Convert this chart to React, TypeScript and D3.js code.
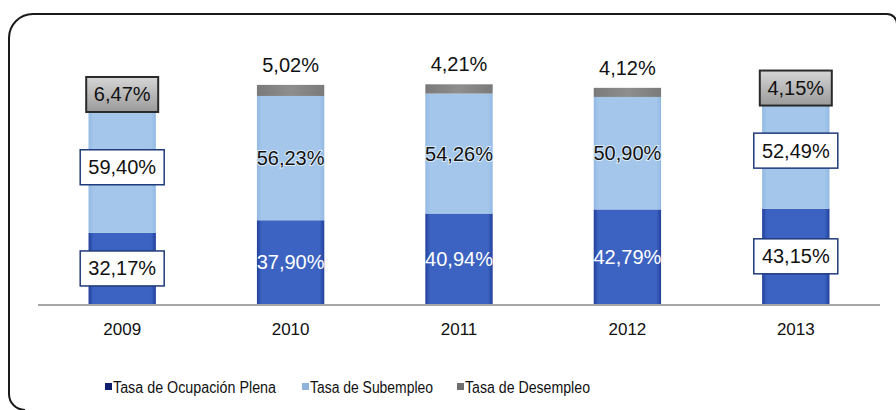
import React from "react";
import * as d3 from "d3";

const years = ["2009", "2010", "2011", "2012", "2013"];
const ocupacion = [32.17, 37.9, 40.94, 42.79, 43.15];
const subempleo = [59.4, 56.23, 54.26, 50.9, 52.49];
const desempleo = [6.47, 5.02, 4.21, 4.12, 4.15];
const boxed = [true, false, false, false, true];
const seriesNames = ["Tasa de Ocupación Plena", "Tasa de Subempleo", "Tasa de Desempleo"];

const W = 896;
const H = 410;
const FONT = "'Liberation Sans', Arial, sans-serif";

const fmt = (v: number) => v.toFixed(2).replace(".", ",") + "%";

export default function App() {
  const x = d3.scaleBand<string>().domain(years).range([38, 880]).paddingInner(0.6).paddingOuter(0.3);
  const y = d3.scaleLinear().domain([0, 100]).range([304, 83]);
  const bw = x.bandwidth();

  const rows = years.map((yr, i) => ({ yr, o: ocupacion[i], s: subempleo[i], d: desempleo[i] }));
  const stack = d3.stack<any>().keys(["o", "s", "d"])(rows as any);

  const fills = ["url(#gOcu)", "url(#gSub)", "url(#gDes)"];
  const legendColors = ["#0f1f6e", "#8fb3dc", "#6f6f6f"];
  const legendX = [105, 302, 457];
  const legendLen = [163, 123, 125];

  const frame = "M9,38 A24,24 0 0 1 33,14 H887 A10,10 0 0 1 897,24 V420 M9,38 V394 A16,16 0 0 0 25,410";

  return (
    <svg width={W} height={H} style={{ position: "absolute", left: 0, top: 0, background: "#fff" }}>
      <defs>
        <linearGradient id="gOcu" x1="0" x2="1" y1="0" y2="0">
          <stop offset="0" stopColor="#22409c" />
          <stop offset="0.07" stopColor="#3c63c1" />
          <stop offset="0.93" stopColor="#3c63c1" />
          <stop offset="1" stopColor="#22409c" />
        </linearGradient>
        <linearGradient id="gSub" x1="0" x2="1" y1="0" y2="0">
          <stop offset="0" stopColor="#93b9e3" />
          <stop offset="0.07" stopColor="#a3c6ea" />
          <stop offset="0.93" stopColor="#a3c6ea" />
          <stop offset="1" stopColor="#93b9e3" />
        </linearGradient>
        <linearGradient id="gDes" x1="0" x2="1" y1="0" y2="0">
          <stop offset="0" stopColor="#7a7a7a" />
          <stop offset="0.5" stopColor="#8e8e8e" />
          <stop offset="1" stopColor="#7a7a7a" />
        </linearGradient>
        <linearGradient id="gBox" x1="0" x2="0" y1="0" y2="1">
          <stop offset="0" stopColor="#d6d6d6" />
          <stop offset="1" stopColor="#9a9a9a" />
        </linearGradient>
      </defs>

      <path d={frame} fill="none" stroke="#1a1a1a" strokeWidth={2} />

      {stack.map((layer, li) =>
        layer.map((p, i) => (
          <rect
            key={`${li}-${i}`}
            x={x(years[i])!}
            y={y(p[1])}
            width={bw}
            height={y(p[0]) - y(p[1])}
            fill={fills[li]}
          />
        ))
      )}

      <line x1={38} x2={880} y1={y(0) + 1} y2={y(0) + 1} stroke="#a6a6a6" strokeWidth={2} />

      {years.map((yr) => (
        <text key={yr} x={x(yr)! + bw / 2} y={329} textAnchor="middle" dominantBaseline="central" fontFamily={FONT} fontSize={17} fill="#111">
          {yr}
        </text>
      ))}

      {years.map((yr, i) => {
        const cx = x(yr)! + bw / 2;
        const oMid = (y(0) + y(stack[0][i][1])) / 2;
        const sMid = (y(stack[1][i][0]) + y(stack[1][i][1])) / 2;
        const dMid = (y(stack[2][i][0]) + y(stack[2][i][1])) / 2;
        const top = y(stack[2][i][1]);
        if (boxed[i]) {
          return (
            <g key={yr} fontFamily={FONT} fontSize={20}>
              <rect x={cx - 36} y={dMid - 17.5} width={72} height={35} fill="url(#gBox)" stroke="#2a2a2a" strokeWidth={2} />
              <text x={cx} y={dMid} textAnchor="middle" dominantBaseline="central" fill="#111">{fmt(desempleo[i])}</text>
              <rect x={cx - 42} y={sMid - 17.5} width={84} height={35} fill="#fff" stroke="#1f3a7a" strokeWidth={1.5} />
              <text x={cx} y={sMid} textAnchor="middle" dominantBaseline="central" fill="#111">{fmt(subempleo[i])}</text>
              <rect x={cx - 42} y={oMid - 17.5} width={84} height={35} fill="#fff" stroke="#1f3a7a" strokeWidth={1.5} />
              <text x={cx} y={oMid} textAnchor="middle" dominantBaseline="central" fill="#111">{fmt(ocupacion[i])}</text>
            </g>
          );
        }
        return (
          <g key={yr} fontFamily={FONT} fontSize={20}>
            <text x={cx} y={top - 20} textAnchor="middle" dominantBaseline="central" fill="#111">{fmt(desempleo[i])}</text>
            <text x={cx} y={sMid} textAnchor="middle" dominantBaseline="central" fill="#111" stroke="#dcebfa" strokeWidth={2} paintOrder="stroke">{fmt(subempleo[i])}</text>
            <text x={cx} y={oMid} textAnchor="middle" dominantBaseline="central" fill="#fff">{fmt(ocupacion[i])}</text>
          </g>
        );
      })}

      {seriesNames.map((n, i) => (
        <g key={n}>
          <rect x={legendX[i]} y={383} width={7} height={7} fill={legendColors[i]} />
          <text x={legendX[i] + 8} y={387} dominantBaseline="central" fontFamily={FONT} fontSize={16} fill="#111" textLength={legendLen[i]} lengthAdjust="spacingAndGlyphs">{n}</text>
        </g>
      ))}
    </svg>
  );
}
